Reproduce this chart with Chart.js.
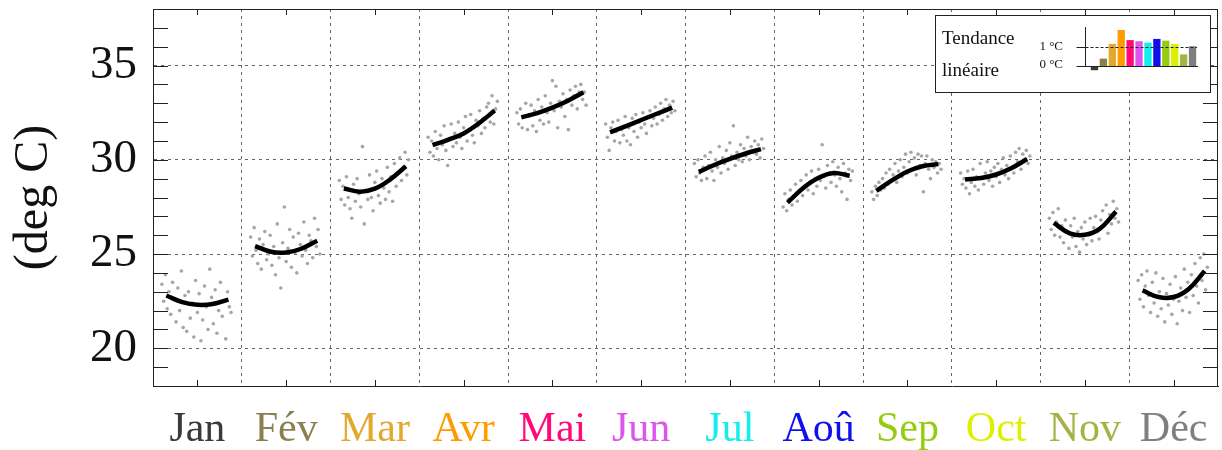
<!DOCTYPE html>
<html>
<head>
<meta charset="utf-8">
<script src="https://cdn.jsdelivr.net/npm/chart.js@4.4.1/dist/chart.umd.min.js"></script>
<style>
  html, body { margin: 0; padding: 0; background: #fff; }
  #wrap { position: relative; width: 1222px; height: 450px; }
  #graf { display: block; }
  #box { position: absolute; left: 935px; top: 15px; width: 276px; height: 78px; box-sizing: border-box; border: 1px solid #222; background: #fff; }
  #tendance { display: block; }
</style>
</head>
<body>
<div id="wrap">
  <canvas id="graf" width="1222" height="450"></canvas>
  <div id="box"><canvas id="tendance" width="274" height="76"></canvas></div>
</div>
<script>
// categories et couleurs
var mois = ["Jan", "Fév", "Mar", "Avr", "Mai", "Jun", "Jul", "Aoû", "Sep", "Oct", "Nov", "Déc"];
var couleurs = ["#3a3a3a", "#8a7f4e", "#e3a92f", "#ff9a00", "#ff0a78", "#dd55ee", "#11eeee", "#1010ee", "#96cc10", "#dcf000", "#a6b246", "#7f7f7f"];
var yLabels = [20, 25, 30, 35];

// position des points dans le mois (fraction du mois)
var joursPos = [0.10, 0.12, 0.14, 0.16, 0.18, 0.20, 0.22, 0.24, 0.26, 0.28,
                0.30, 0.32, 0.34, 0.36, 0.38, 0.40, 0.42, 0.44, 0.46, 0.48,
                0.50, 0.52, 0.54, 0.56, 0.58, 0.60, 0.62, 0.64, 0.66, 0.68,
                0.70, 0.72, 0.74, 0.76, 0.78, 0.80, 0.82, 0.84, 0.86, 0.88];

// temperatures journalieres (deg C)
var valJan = [23.4, 22.5, 23.9, 22.1, 23.0, 21.8, 23.5, 22.6, 21.4, 23.2, 22.0, 24.1, 21.1, 22.8, 20.9, 23.0, 21.6, 22.4, 20.6, 23.6,
              21.9, 22.9, 20.4, 21.5, 23.3, 22.2, 21.0, 24.2, 22.7, 21.3, 23.1, 20.8, 22.0, 23.5, 21.7, 22.5, 20.5, 23.0, 22.2, 21.9];
var valFev = [25.9, 24.9, 26.4, 25.2, 24.5, 25.8, 24.2, 25.5, 26.2, 24.7, 25.0, 26.0, 24.4, 25.4, 23.9, 26.6, 24.8, 23.2, 25.6, 27.5,
              24.6, 25.3, 26.3, 24.3, 25.9, 25.1, 24.0, 26.1, 25.5, 24.9, 26.7, 25.2, 24.5, 26.0, 25.7, 24.8, 26.9, 25.4, 26.3, 25.0];
var valMar = [28.9, 27.9, 28.6, 27.6, 29.1, 28.0, 27.4, 26.9, 28.7, 27.8, 29.0, 28.2, 27.5, 30.7, 26.6, 28.4, 27.9, 29.2, 28.0, 27.3,
              28.8, 29.4, 28.1, 27.7, 29.0, 28.5, 27.9, 29.6, 28.3, 29.1, 27.8, 29.8, 28.6, 29.3, 30.1, 28.9, 29.6, 30.4, 29.2, 30.0];
var valAvr = [31.2, 30.4, 31.0, 30.2, 31.5, 30.6, 30.0, 31.3, 30.8, 31.8, 30.5, 29.7, 31.1, 31.9, 30.7, 31.4, 30.9, 32.0, 31.2, 30.6,
              31.7, 32.3, 31.0, 31.6, 32.4, 31.3, 30.9, 32.1, 31.8, 32.6, 31.4, 32.2, 31.7, 32.8, 33.0, 32.0, 33.4, 31.9, 32.7, 33.1];
var valMai = [32.5, 31.9, 32.7, 31.7, 32.3, 33.0, 31.6, 32.4, 32.9, 31.8, 32.6, 31.5, 33.2, 32.1, 32.8, 31.9, 33.4, 32.5, 32.0, 33.0,
              34.2, 32.6, 33.9, 31.7, 33.1, 32.8, 33.5, 32.3, 33.2, 31.6, 33.7, 32.9, 33.4, 33.9, 32.7, 33.6, 34.0, 33.2, 33.6, 32.9];
var valJun = [31.9, 31.2, 30.5, 31.7, 32.0, 31.0, 31.5, 32.1, 30.9, 31.6, 31.3, 32.3, 31.0, 31.7, 30.8, 32.2, 31.5, 32.4, 31.2, 32.0,
              31.7, 32.5, 31.9, 31.4, 32.3, 32.6, 31.8, 32.2, 32.8, 31.9, 32.4, 33.0, 32.1, 32.7, 33.2, 32.3, 32.9, 32.5, 33.1, 32.6];
var valJul = [29.8, 29.1, 30.0, 29.3, 28.9, 29.6, 30.2, 29.0, 29.7, 30.4, 29.4, 28.9, 30.0, 29.6, 30.7, 29.3, 30.1, 29.8, 30.5, 29.5,
              30.9, 30.2, 31.8, 29.7, 30.4, 30.0, 30.8, 29.9, 30.6, 30.2, 31.2, 30.0, 30.7, 30.4, 31.0, 30.3, 30.8, 30.1, 31.1, 30.6];
var valAou = [27.5, 28.2, 27.3, 27.9, 28.4, 27.6, 28.0, 28.7, 27.8, 28.3, 28.9, 28.1, 28.6, 29.2, 28.4, 28.8, 29.4, 28.2, 29.0, 28.6,
              29.5, 28.9, 30.8, 29.1, 28.5, 29.7, 29.3, 28.8, 29.9, 29.2, 28.6, 29.6, 29.0, 28.3, 29.8, 29.3, 27.9, 29.5, 28.9, 29.4];
var valSep = [28.3, 27.9, 28.6, 28.1, 28.8, 28.4, 29.0, 28.5, 29.3, 28.7, 29.5, 28.9, 29.2, 29.8, 28.8, 29.4, 30.0, 29.1, 29.6, 30.3,
              29.3, 29.9, 30.4, 29.5, 30.1, 29.2, 30.3, 29.7, 30.2, 28.3, 29.8, 30.2, 29.5, 29.0, 30.0, 29.6, 29.9, 29.3, 29.8, 29.5];
var valOct = [29.3, 28.7, 29.0, 28.5, 29.4, 28.2, 28.8, 29.5, 28.6, 29.1, 28.4, 29.8, 29.0, 28.7, 29.3, 29.9, 28.9, 29.4, 28.6, 29.6,
              29.1, 29.8, 28.8, 29.5, 30.1, 29.2, 29.7, 29.0, 30.2, 29.6, 29.3, 30.4, 29.9, 30.6, 29.5, 30.3, 30.0, 30.5, 29.8, 30.2];
var valNov = [26.9, 26.3, 27.2, 26.0, 26.7, 27.4, 25.9, 26.5, 25.6, 26.8, 26.2, 25.3, 26.5, 25.9, 26.9, 25.4, 26.2, 25.1, 26.4, 25.8,
              26.7, 25.5, 26.1, 26.9, 25.7, 26.4, 27.0, 26.2, 25.8, 26.8, 27.3, 26.5, 27.6, 26.1, 27.1, 26.6, 27.8, 26.9, 27.4, 26.7];
var valDec = [23.6, 22.6, 23.9, 22.2, 23.3, 24.1, 22.8, 21.9, 23.5, 22.4, 24.0, 21.7, 23.0, 22.1, 23.7, 21.4, 22.9, 22.3, 23.4, 21.8,
              22.6, 23.8, 21.3, 22.5, 23.2, 22.0, 24.2, 22.7, 23.5, 21.9, 23.9, 22.8, 24.5, 23.3, 22.4, 24.8, 23.6, 25.0, 23.1, 24.3];

// courbes d'ajustement (fraction du mois / valeur)
var courbePos = [0.15, 0.33, 0.50, 0.67, 0.85];
var courbeJan = [22.80, 22.45, 22.31, 22.35, 22.58];
var courbeFev = [25.42, 25.12, 25.08, 25.28, 25.71];
var courbeMar = [28.48, 28.31, 28.47, 28.95, 29.66];
var courbeAvr = [30.78, 31.07, 31.40, 31.93, 32.61];
var courbeMai = [32.25, 32.48, 32.77, 33.12, 33.58];
var courbeJun = [31.46, 31.79, 32.11, 32.43, 32.77];
var courbeJul = [29.36, 29.74, 30.05, 30.32, 30.57];
var courbeAou = [27.73, 28.52, 29.05, 29.30, 29.15];
var courbeSep = [28.35, 28.92, 29.38, 29.66, 29.77];
var courbeOct = [28.96, 29.03, 29.22, 29.55, 30.04];
var courbeNov = [26.65, 26.10, 26.02, 26.35, 27.25];
var courbeDec = [23.07, 22.72, 22.72, 23.15, 24.10];

// tendance lineaire par mois (deg C)
var tendance = [-0.22, 0.38, 1.14, 1.86, 1.34, 1.28, 1.21, 1.40, 1.31, 1.14, 0.60, 1.02];

var nuages = [valJan, valFev, valMar, valAvr, valMai, valJun, valJul, valAou, valSep, valOct, valNov, valDec];
var courbes = [courbeJan, courbeFev, courbeMar, courbeAvr, courbeMai, courbeJun, courbeJul, courbeAou, courbeSep, courbeOct, courbeNov, courbeDec];

var points = [];
nuages.forEach(function (vals, m) {
    vals.forEach(function (v, i) { points.push({ x: m + joursPos[i], y: v }); });
});

var ligne = [];
courbes.forEach(function (c, m) {
    c.forEach(function (v, j) { ligne.push({ x: m + courbePos[j], y: v }); });
    ligne.push({ x: m + 0.95, y: null });
});

var serif = "'Liberation Serif', 'Times New Roman', serif";

// petits traits vers l'interieur + bords haut/droit
var cadre = {
    id: 'cadre',
    afterDraw: function (chart) {
        var ctx = chart.ctx, a = chart.chartArea, x = chart.scales.x, y = chart.scales.y;
        ctx.save();
        ctx.strokeStyle = '#222';
        ctx.lineWidth = 1;
        ctx.beginPath();
        ctx.moveTo(a.left, a.top + 0.5); ctx.lineTo(a.right, a.top + 0.5);
        ctx.moveTo(a.right - 0.5, a.top); ctx.lineTo(a.right - 0.5, a.bottom);
        for (var v = y.min + 1; v < y.max; v++) {
            var py = Math.round(y.getPixelForValue(v)) + 0.5;
            ctx.moveTo(a.left, py); ctx.lineTo(a.left + 15, py);
            ctx.moveTo(a.right, py); ctx.lineTo(a.right - 15, py);
        }
        mois.forEach(function (m, i) {
            var px = Math.round(x.getPixelForValue(i + 0.5)) + 0.5;
            ctx.moveTo(px, a.bottom); ctx.lineTo(px, a.bottom - 6);
            ctx.moveTo(px, a.top); ctx.lineTo(px, a.top + 6);
        });
        ctx.stroke();
        ctx.restore();
    }
};

new Chart(document.getElementById('graf'), {
    type: 'scatter',
    data: {
        datasets: [
            {
                type: 'line',
                data: ligne,
                borderColor: '#000',
                borderWidth: 4.5,
                pointRadius: 0,
                tension: 0.4,
                spanGaps: false,
                order: 0
            },
            {
                data: points,
                backgroundColor: '#a6a6a6',
                borderWidth: 0,
                pointRadius: 1.8,
                order: 1
            }
        ]
    },
    options: {
        responsive: false,
        animation: false,
        devicePixelRatio: 1,
        layout: { padding: { top: 9, right: 3, left: 0, bottom: 0 } },
        plugins: { legend: { display: false }, tooltip: { enabled: false } },
        scales: {
            x: {
                type: 'linear',
                min: 0,
                max: 12,
                afterFit: function (s) { s.height = 64; s.paddingLeft = 0; s.paddingRight = 0; },
                grid: {
                    drawTicks: false,
                    lineWidth: 1,
                    color: function (c) {
                        var v = c.tick ? c.tick.value : 0;
                        return (Number.isInteger(v) && v > 0 && v < 12) ? '#666' : 'rgba(0,0,0,0)';
                    }
                },
                border: { display: true, color: '#222', width: 1, dash: [3, 4] },
                ticks: {
                    stepSize: 0.5,
                    autoSkip: false,
                    maxRotation: 0,
                    minRotation: 0,
                    padding: 19,
                    font: { family: serif, size: 42 },
                    color: function (c) { return couleurs[Math.min(11, Math.floor(c.tick.value))]; },
                    callback: function (v) { return (v % 1 === 0.5) ? mois[Math.floor(v)] : ''; }
                }
            },
            y: {
                min: 18,
                max: 38,
                afterFit: function (s) { s.width = 153; s.paddingTop = 0; s.paddingBottom = 0; },
                grid: {
                    drawTicks: false,
                    lineWidth: 1,
                    color: function (c) {
                        var v = c.tick ? c.tick.value : 0;
                        return yLabels.indexOf(v) >= 0 ? '#666' : 'rgba(0,0,0,0)';
                    }
                },
                border: { display: true, color: '#222', width: 1, dash: [3, 4] },
                ticks: {
                    stepSize: 1,
                    autoSkip: false,
                    padding: 16,
                    color: '#111',
                    font: { family: serif, size: 47 },
                    callback: function (v) { return yLabels.indexOf(v) >= 0 ? String(v) : null; }
                },
                title: {
                    display: true,
                    text: '(deg C)',
                    color: '#111',
                    font: { family: serif, size: 48 },
                    padding: { top: 6, bottom: 0 }
                }
            }
        }
    },
    plugins: [cadre]
});

// encart "Tendance lineaire"
var encart = {
    id: 'encart',
    afterDatasetsDraw: function (chart) {
        var ctx = chart.ctx, a = chart.chartArea, y = chart.scales.y;
        var ax = a.left - 4.5;
        var y0 = Math.round(y.getPixelForValue(0)) + 0.5;
        var y1 = Math.round(y.getPixelForValue(1)) + 0.5;
        ctx.save();
        ctx.strokeStyle = '#222';
        ctx.lineWidth = 1;
        ctx.beginPath();
        ctx.moveTo(ax, a.top + 2); ctx.lineTo(ax, y0);
        ctx.moveTo(ax - 9, y1); ctx.lineTo(ax, y1);
        ctx.moveTo(ax - 9, y0); ctx.lineTo(a.right + 1, y0);
        ctx.stroke();
        ctx.setLineDash([3, 2]);
        ctx.beginPath();
        ctx.moveTo(ax, y1); ctx.lineTo(a.right, y1);
        ctx.stroke();
        ctx.setLineDash([]);
        ctx.fillStyle = '#111';
        ctx.font = "19px " + serif;
        ctx.textAlign = 'left';
        ctx.textBaseline = 'alphabetic';
        ctx.fillText('Tendance', 6, 28);
        ctx.fillText('linéaire', 6, 60);
        ctx.font = "13px " + serif;
        ctx.textAlign = 'right';
        ctx.textBaseline = 'middle';
        ctx.fillText('1 °C', 127, y1 - 1);
        ctx.fillText('0 °C', 127, y0 - 2);
        ctx.restore();
    }
};

new Chart(document.getElementById('tendance'), {
    type: 'bar',
    data: {
        labels: mois,
        datasets: [{
            data: tendance,
            backgroundColor: couleurs,
            borderWidth: 0,
            barPercentage: 0.82,
            categoryPercentage: 1
        }]
    },
    options: {
        responsive: false,
        animation: false,
        devicePixelRatio: 1,
        layout: { padding: { left: 154, right: 13, top: 9, bottom: 21 } },
        plugins: { legend: { display: false }, tooltip: { enabled: false } },
        scales: {
            x: { display: false },
            y: { display: false, min: -0.26, max: 2.12 }
        }
    },
    plugins: [encart]
});
</script>
</body>
</html>
